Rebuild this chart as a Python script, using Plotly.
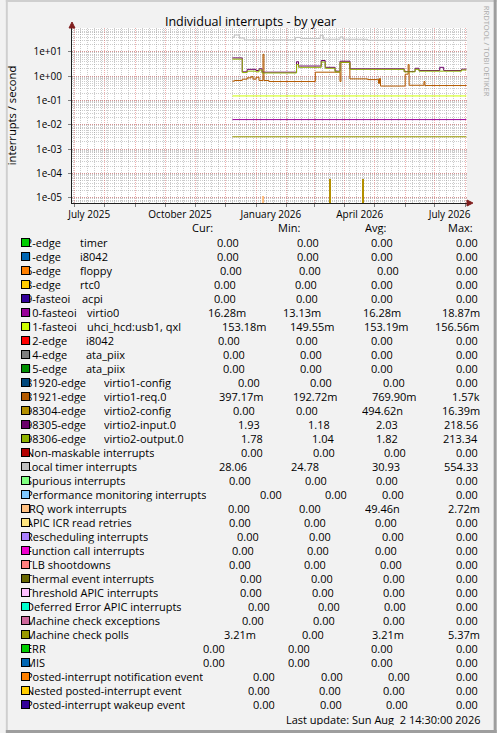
import plotly.graph_objects as go

# ---------------- data ----------------
x_start = "2025-06-28 14:30"
x_end = "2026-08-02 14:30"

# Local timer interrupts (step breakpoints)
lt_dates = ["2025-12-08", "2025-12-10", "2025-12-15", "2025-12-20", "2026-02-10", "2026-02-15",
            "2026-03-07", "2026-03-10", "2026-03-27", "2026-03-30", "2026-04-24", "2026-08-02"]
lt_vals = [40, 49, 37, 31, 39, 35, 48, 33, 41, 33, 30, 28]

# virtio2-input.0 / virtio2-output.0
v2_dates = ["2025-12-08", "2025-12-18", "2025-12-23", "2026-01-01", "2026-01-04", "2026-01-07",
            "2026-02-11", "2026-02-13", "2026-03-08", "2026-03-12", "2026-03-22", "2026-03-27",
            "2026-04-06", "2026-05-31", "2026-06-11", "2026-06-15", "2026-07-06", "2026-07-10",
            "2026-07-28", "2026-08-02"]
v2_in_vals = [5.6, 1.5, 1.9, 1.7, 2.0, 1.45, 3.9, 2.6, 4.4, 2.3, 1.6, 4.1,
              2.0, 1.55, 2.1, 1.7, 2.3, 1.7, 1.93, 1.93]
v2_out_vals = [5.0, 1.4, 1.6, 1.5, 1.8, 1.35, 3.0, 2.3, 3.8, 2.1, 1.5, 3.7,
               1.9, 1.5, 1.9, 1.6, 1.6, 1.6, 1.78, 1.78]

# virtio1-req.0
v1_dates = ["2025-12-08", "2025-12-10", "2025-12-18", "2025-12-23", "2025-12-27", "2025-12-29",
            "2026-01-01", "2026-01-04", "2026-01-08", "2026-01-09", "2026-01-14", "2026-03-02",
            "2026-03-27", "2026-03-28", "2026-04-06", "2026-04-24", "2026-05-04", "2026-05-05",
            "2026-05-06", "2026-05-07", "2026-06-01", "2026-06-04", "2026-06-05", "2026-06-20",
            "2026-06-21", "2026-08-02"]
v1_vals = [0.62, 0.66, 0.75, 0.85, 0.95, 0.75, 0.9, 0.66, 7.9, 0.66, 0.6, 1.45,
           0.6, 3.7, 0.77, 0.72, 0.75, 0.5, 0.8, 0.39, 1.2, 3.0, 0.42, 0.6,
           0.41, 0.397]

# constant-looking series
const_dates = ["2025-12-08", "2026-08-02"]
uhci_vals = [0.153, 0.153]
virtio0_vals = [0.0163, 0.0163]
mcp_vals = [0.0032, 0.0032]

# spikes
irqwork_dates = ["2026-01-08"]
irqwork_vals = [1.2e-5]
v2cfg_dates = ["2026-03-17", "2026-04-20"]
v2cfg_vals = [5.8e-5, 5.8e-5]

# axis labels
ytick_vals = [1e-5, 1e-4, 1e-3, 1e-2, 1e-1, 1e0, 1e1]
ytick_text = ["1e-05", "1e-04", "1e-03", "1e-02", "1e-01", "1e+00", "1e+01"]
xtick_vals = ["2025-07-16", "2025-10-16", "2026-01-16", "2026-04-16", "2026-07-16"]
xtick_text = ["July 2025", "October 2025", "January 2026", "April 2026", "July 2026"]

# legend table
colors = ["#00CC00", "#0066B3", "#FF8000", "#FFCC00", "#330099", "#990099", "#CCFF00", "#FF0000",
          "#808080", "#008F00", "#00487D", "#B35A00", "#B38F00", "#6B006B", "#8FB300", "#B30000",
          "#BEBEBE", "#80FF80", "#80C9FF", "#FFC080", "#FFE680", "#AA80FF", "#EE00CC", "#FF8080",
          "#666600", "#FFBFFF", "#00FFCC", "#CC6699", "#999900", "#00CC00", "#0066B3", "#FF8000",
          "#FFCC00", "#330099"]
labels_a = ["2-edge", "1-edge", "6-edge", "8-edge", "9-fasteoi", "10-fasteoi", "11-fasteoi", "12-edge",
            "14-edge", "15-edge", "81920-edge", "81921-edge", "98304-edge", "98305-edge", "98306-edge",
            "Non-maskable interrupts", "Local timer interrupts", "Spurious interrupts",
            "Performance monitoring interrupts", "IRQ work interrupts", "APIC ICR read retries",
            "Rescheduling interrupts", "Function call interrupts", "TLB shootdowns",
            "Thermal event interrupts", "Threshold APIC interrupts", "Deferred Error APIC interrupts",
            "Machine check exceptions", "Machine check polls", "ERR", "MIS",
            "Posted-interrupt notification event", "Nested posted-interrupt event",
            "Posted-interrupt wakeup event"]
labels_b = ["timer", "i8042", "floppy", "rtc0", "acpi", "virtio0", "uhci_hcd:usb1, qxl", "i8042",
            "ata_piix", "ata_piix", "virtio1-config", "virtio1-req.0", "virtio2-config",
            "virtio2-input.0", "virtio2-output.0"]
cur_v = ["0.00", "0.00", "0.00", "0.00", "0.00", "16.28m", "153.18m", "0.00", "0.00", "0.00", "0.00",
         "397.17m", "0.00", "1.93", "1.78", "0.00", "28.06", "0.00", "0.00", "0.00", "0.00", "0.00",
         "0.00", "0.00", "0.00", "0.00", "0.00", "0.00", "3.21m", "0.00", "0.00", "0.00", "0.00", "0.00"]
min_v = ["0.00", "0.00", "0.00", "0.00", "0.00", "13.13m", "149.55m", "0.00", "0.00", "0.00", "0.00",
         "192.72m", "0.00", "1.18", "1.04", "0.00", "24.78", "0.00", "0.00", "0.00", "0.00", "0.00",
         "0.00", "0.00", "0.00", "0.00", "0.00", "0.00", "0.00", "0.00", "0.00", "0.00", "0.00", "0.00"]
avg_v = ["0.00", "0.00", "0.00", "0.00", "0.00", "16.28m", "153.19m", "0.00", "0.00", "0.00", "0.00",
         "769.90m", "494.62n", "2.03", "1.82", "0.00", "30.93", "0.00", "0.00", "49.46n", "0.00", "0.00",
         "0.00", "0.00", "0.00", "0.00", "0.00", "0.00", "3.21m", "0.00", "0.00", "0.00", "0.00", "0.00"]
max_v = ["0.00", "0.00", "0.00", "0.00", "0.00", "18.87m", "156.56m", "0.00", "0.00", "0.00", "0.00",
         "1.57k", "16.39m", "218.56", "213.34", "0.00", "554.33", "0.00", "0.00", "2.72m", "0.00", "0.00",
         "0.00", "0.00", "0.00", "0.00", "0.00", "0.00", "5.37m", "0.00", "0.00", "0.00", "0.00", "0.00"]

# ---------------- layout geometry (pixels) ----------------
W, H = 497, 733
PL, PR, PT, PB = 67, 467, 28, 203
ROW0, ROWH = 242.2, 14.0
LAB_A_X = 19.0
LAB_B_X = [74.3, 74.3, 74.3, 74.3, 76.0, 81.6, 81.6, 80.3, 80.3, 80.3, 98.3, 98.3, 98.3, 98.3, 98.3]
CUR_R = [236.7, 236.7, 239.3, 233.3, 233.3, 243.3, 265, 237.3, 242, 242, 257.3, 261.7, 252.3, 257.3,
         260.7, 260.7, 245, 249, 280, 247.3, 248.3, 256.7, 251.7, 248.3, 259.3, 260, 268.3, 261.7,
         254, 222.7, 222.7, 273.3, 268.3, 272.7]
MIN_R = [317.3, 317.3, 319, 315, 316.7, 319.3, 333.3, 316.7, 320, 320, 330.7, 336.7, 316.7, 329,
         332.3, 333.3, 317.3, 325.7, 346, 319.3, 325, 330, 327.3, 325, 331.7, 332.7, 338.3, 334,
         322.7, 308.3, 308.3, 341.7, 339.3, 341]
AVG_R = [392.7, 392.7, 398.3, 392.7, 392.7, 400, 408.3, 392.7, 392.7, 392.7, 405, 416.7, 402.7,
         397.3, 397.3, 405.7, 399, 397.3, 404, 399.3, 396.7, 403.3, 396.7, 401.3, 404.7, 404.7,
         405.7, 404.7, 403.3, 392.7, 392.7, 409.3, 404.7, 408]
FONT = "Open Sans"
LEG_FS = 11.0
BG = "#F2F2F2"


def px_x(px):
    return (px - PL) / (PR - PL)


def px_y(py):
    return (PB - py) / (PB - PT)


fig = go.Figure()


def step_line(x, y, color, name):
    fig.add_trace(go.Scatter(x=x, y=y, mode="lines", line=dict(color=color, width=1, shape="hv"),
                             name=name, hoverinfo="skip"))


def spikes(x, y, color, name):
    fig.add_trace(go.Bar(x=x, y=y, marker=dict(color=color, line=dict(width=0)),
                         width=1.6 * 86400000, name=name, hoverinfo="skip"))


step_line(const_dates, virtio0_vals, "#990099", "virtio0")
step_line(const_dates, uhci_vals, "#CCFF00", "uhci_hcd:usb1, qxl")
step_line(v1_dates, v1_vals, "#B35A00", "virtio1-req.0")
spikes(v2cfg_dates, v2cfg_vals, "#B38F00", "virtio2-config")
step_line(v2_dates, v2_in_vals, "#6B006B", "virtio2-input.0")
step_line(v2_dates, v2_out_vals, "#8FB300", "virtio2-output.0")
step_line(lt_dates, lt_vals, "#BEBEBE", "Local timer interrupts")
spikes(irqwork_dates, irqwork_vals, "#FFC080", "IRQ work interrupts")
step_line(const_dates, mcp_vals, "#999900", "Machine check polls")
# carrier for the grid axis
fig.add_trace(go.Scatter(x=[x_start, x_end], y=[None, None], xaxis="x2", mode="lines",
                         showlegend=False, hoverinfo="skip"))

ann = []


def text(px, py, s, anchor="left", size=LEG_FS, color="#000000", angle=0, h=13.4):
    d = dict(x=px_x(px), y=px_y(py), xref="paper", yref="paper", text=s, showarrow=False,
             xanchor=anchor, yanchor="middle", borderpad=0, textangle=angle,
             font=dict(family=FONT, size=size, color=color))
    if h:
        d["height"] = h
    ann.append(d)


# header
for lab, r in zip(["Cur:", "Min:", "Avg:", "Max:"], [210, 298, 385, 473]):
    text(r + 0.7, 227.3, lab, anchor="right")

for i in range(len(labels_a)):
    ry = ROW0 + ROWH * i
    text(LAB_A_X, ry, labels_a[i])
    if i < len(labels_b):
        text(LAB_B_X[i], ry, labels_b[i])
    text(CUR_R[i] + 0.7, ry, cur_v[i], anchor="right")
    text(MIN_R[i] + 0.7, ry, min_v[i], anchor="right")
    text(AVG_R[i] + 0.7, ry, avg_v[i], anchor="right")
    mx = max_v[i]
    text((480.7 if mx[-1].isalpha() else 478.3) + 0.7, ry, mx, anchor="right")

# colour boxes drawn over the first characters
for i, c in enumerate(colors):
    ry = ROW0 + ROWH * i
    ann.append(dict(x=px_x(19.5), y=px_y(ry), xref="paper", yref="paper", text="\u00a0",
                    showarrow=False, xanchor="center", yanchor="middle", width=7, height=7,
                    borderpad=0, borderwidth=1, bordercolor="#000000", bgcolor=c,
                    font=dict(family=FONT, size=1)))

text(481.7, 718.8, "Last update: Sun Aug\u00a0 2 14:30:00 2026", anchor="right", h=12)
text(487.5, 51, "RRDTOOL / TOBI OETIKER", anchor="center", size=7.6, color="#ABABAB", angle=90,
     h=None)

# frame + arrows
shapes = [
    dict(type="rect", xref="paper", yref="paper", x0=px_x(0), x1=px_x(W), y0=px_y(0), y1=px_y(2),
         fillcolor="#CFCFCF", line=dict(width=0), layer="below"),
    dict(type="rect", xref="paper", yref="paper", x0=px_x(0), x1=px_x(2), y0=px_y(0), y1=px_y(H),
         fillcolor="#CFCFCF", line=dict(width=0), layer="below"),
    dict(type="rect", xref="paper", yref="paper", x0=px_x(W - 3), x1=px_x(W), y0=px_y(0), y1=px_y(H),
         fillcolor="#9E9E9E", line=dict(width=0), layer="below"),
    dict(type="rect", xref="paper", yref="paper", x0=px_x(0), x1=px_x(W), y0=px_y(H - 3), y1=px_y(H),
         fillcolor="#9E9E9E", line=dict(width=0), layer="below"),
]


def tri(pts):
    d = "M " + " L ".join(f"{px_x(a)},{px_y(b)}" for a, b in pts) + " Z"
    return dict(type="path", xref="paper", yref="paper", path=d, fillcolor="#801F1F",
                line=dict(color="#801F1F", width=1), layer="above")


shapes.append(tri([(64, 28), (70, 28), (67, 22)]))
shapes.append(tri([(467, 200), (467, 206), (473, 203)]))

grid_minor = "rgba(143,143,143,0.45)"
grid_major = "rgba(222,79,79,0.45)"

fig.update_layout(
    width=W, height=H,
    margin=dict(l=PL, r=W - PR, t=PT, b=H - PB, pad=0),
    paper_bgcolor=BG, plot_bgcolor="#FFFFFF",
    showlegend=False, barmode="overlay", bargap=0,
    font=dict(family=FONT, size=10, color="#000000"),
    title=dict(text="Individual interrupts - by year", x=px_x(247.8), xref="paper", xanchor="center",
               y=1 - 21.6 / H, yref="container", yanchor="middle",
               font=dict(family=FONT, size=12.5, color="#000000")),
    xaxis=dict(type="date", range=[x_start, x_end], tickmode="array", tickvals=xtick_vals,
               ticktext=xtick_text, showgrid=False, ticks="", zeroline=False,
               showline=True, linecolor="#1F1F1F", linewidth=1, ticklabelstandoff=2,
               tickfont=dict(family=FONT, size=10)),
    xaxis2=dict(type="date", range=[x_start, x_end], overlaying="x", anchor="y", side="bottom",
                showticklabels=False, dtick="M1", tick0="2025-07-01", ticks="outside", ticklen=3,
                tickcolor="#7F7F7F", showgrid=True, gridcolor=grid_major, griddash="1px,1px",
                gridwidth=1, zeroline=False, showline=False,
                minor=dict(dtick=7 * 86400000, tick0="2025-06-30", showgrid=True,
                           gridcolor=grid_minor, griddash="1px,1px", gridwidth=1, ticks="")),
    yaxis=dict(type="log", range=[-5.22, 1.98], tickmode="array", tickvals=ytick_vals,
               ticktext=ytick_text, showgrid=True, gridcolor=grid_major, griddash="1px,1px",
               ticks="outside", ticklen=3, tickcolor="#7F7F7F", zeroline=False,
               showline=True, linecolor="#1F1F1F", linewidth=1, ticklabelstandoff=4,
               tickfont=dict(family=FONT, size=10),
               minor=dict(dtick="D1", showgrid=True, gridcolor=grid_minor, griddash="1px,1px",
                          ticks=""),
               title=dict(text="interrupts / second", standoff=14,
                          font=dict(family=FONT, size=11.2))),
    shapes=shapes,
    annotations=ann,
)

fig.write_html("out.html", config={"displayModeBar": False},
               post_script="document.body.style.margin='0';")
